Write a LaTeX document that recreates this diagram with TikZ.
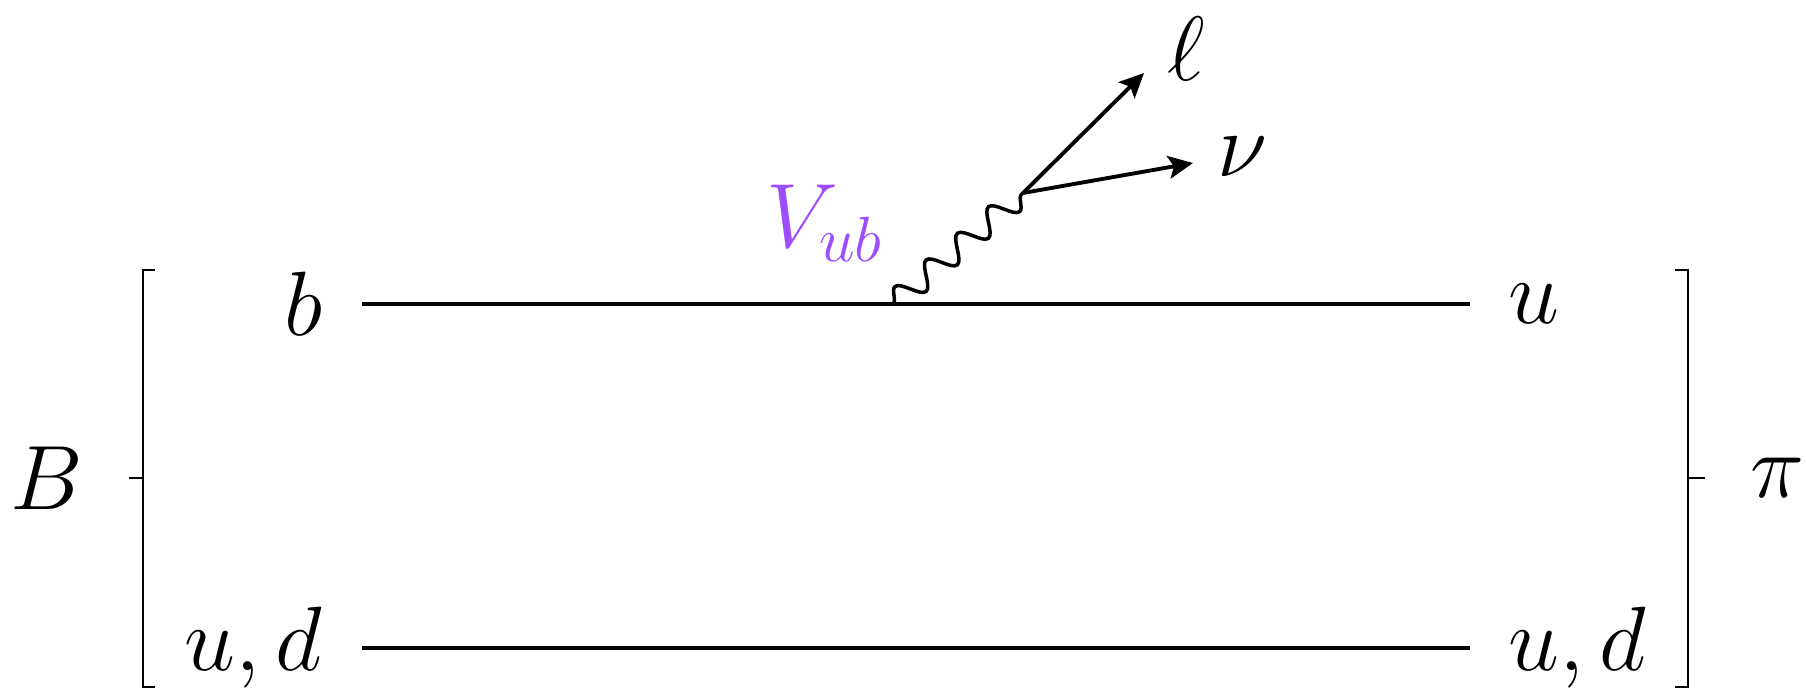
\documentclass[tikz,border=0pt]{standalone}
\usepackage{fix-cm}
\usepackage{tikz}
\usetikzlibrary{arrows.meta,positioning,calc,decorations.pathmorphing}
\definecolor{ckmviolet}{HTML}{9B4DFF}

\begin{document}
\begin{tikzpicture}[
  font=\fontsize{26}{31}\selectfont,
  quark/.style={line width=1.4pt},
  wboson/.style={line width=1pt, decorate,
                 decoration={snake, amplitude=0.12cm, segment length=0.41cm}},
  lepton/.style={-{Stealth[length=7pt, width=6.5pt, inset=1.5pt]}, line width=1.1pt},
  bracket/.style={line width=0.8pt},
  flavour/.style={inner sep=0pt},
  ckm/.style={inner sep=0pt, text=ckmviolet},
]
\useasboundingbox (0,0) rectangle (18.06,6.93);

% ---------------- quark lines --------------------------------------
\coordinate (bin)  at (3.62,3.89);
\coordinate (uout) at (14.70,3.89);
\coordinate (qin)  at (3.62,0.45);
\coordinate (qout) at (14.70,0.45);
\draw[quark] (bin) -- (uout);
\draw[quark] (qin) -- (qout);

\node[flavour, left=0.39 of bin]  (b)  {$b$};
\node[flavour, right=0.38 of uout] (u)  {$u$};
\node[flavour, left=0.39 of qin]  (qa) {$u,d$};
\node[flavour, right=0.38 of qout] (qb) {$u,d$};

% ---------------- mesons -------------------------------------------
\coordinate (Btick) at (1.29,2.15);
\coordinate (pitick) at (17.05,2.15);
\draw[bracket] (1.55,4.23) -- (1.43,4.23) -- (1.43,0.06) -- (1.55,0.06);
\draw[bracket] (1.43,2.15) -- (Btick);
\draw[bracket] (16.75,4.23) -- (16.88,4.23) -- (16.88,0.06) -- (16.75,0.06);
\draw[bracket] (16.88,2.15) -- (pitick);
\node[flavour, left=0.45 of Btick]   (B)  {$B$};
\node[flavour, right=0.45 of pitick] (pi) {$\pi$};

% ---------------- W emission ---------------------------------------
\coordinate (wfoot) at (8.93,3.89);
\coordinate (wvtx)  at (10.23,5.00);
\draw[wboson] (wfoot) -- (wvtx);

\node[ckm] (vub) at (8.25,4.70) {$V_{ub}$};

\coordinate (ltip) at (11.44,6.20);
\coordinate (ntip) at (11.93,5.30);
\draw[lepton] (wvtx) -- (ltip);
\draw[lepton] (wvtx) -- (ntip);
\node[flavour] (lep) at ($(ltip)+(0.42,0.24)$) {$\ell$};
\node[flavour] (nu)  at ($(ntip)+(0.49,0.06)$) {$\nu$};

\end{tikzpicture}
\end{document}
